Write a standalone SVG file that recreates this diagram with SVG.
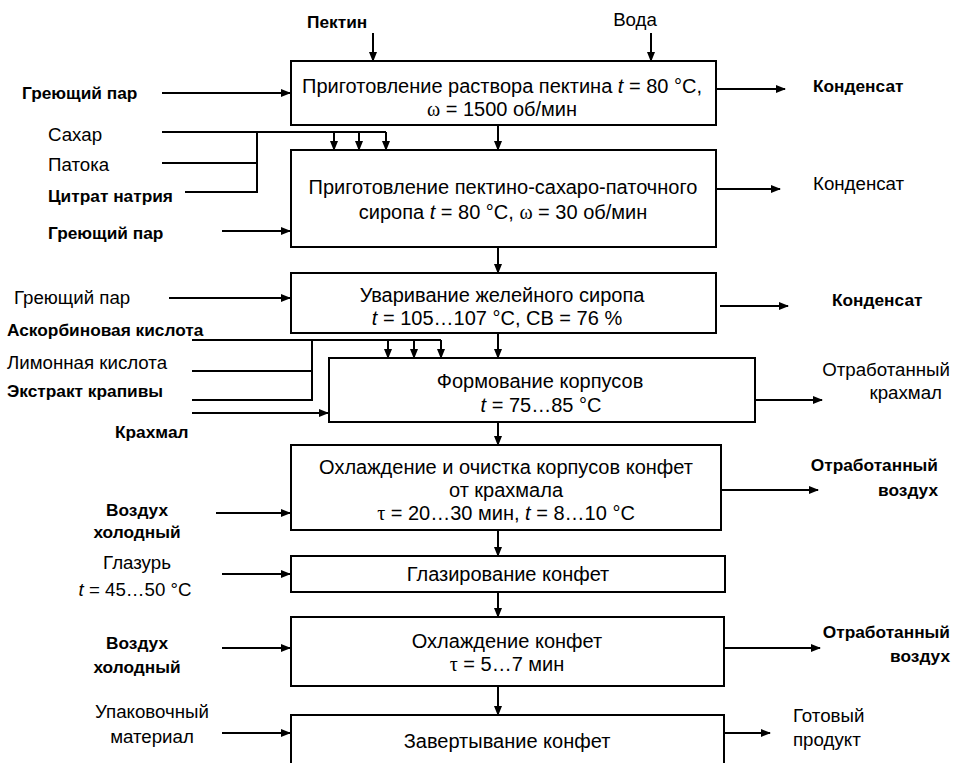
<svg xmlns="http://www.w3.org/2000/svg" width="954" height="763" viewBox="0 0 954 763">
<defs>
<marker id="ah" markerWidth="10" markerHeight="8" refX="9" refY="4" orient="auto" markerUnits="userSpaceOnUse">
<path d="M0,0 L10,4 L0,8 Z" fill="#000"/>
</marker>
<style>
text{font-family:"Liberation Sans",Arial,sans-serif;font-size:18.7px;fill:#000}
.t{font-size:20px;text-anchor:middle}
.b{font-weight:bold;font-size:17.3px}
.m{text-anchor:middle}
.e{text-anchor:end}
.g{font-family:"Liberation Serif","Times New Roman",serif}
.box{fill:#fff;stroke:#000;stroke-width:2}
.c line{stroke:#000;stroke-width:2;fill:none}
.a{marker-end:url(#ah)}
</style>
</defs>
<rect width="954" height="763" fill="#fff"/>

<g id="n1"><rect class="box" x="291" y="61" width="425" height="64"/>
<text x="502" y="93" class="t">Приготовление раствора пектина <tspan font-style="italic">t</tspan> = 80 °C,</text>
<text x="502" y="116" class="t"><tspan class="g">ω</tspan> = 1500 об/мин</text></g>

<g id="n2"><rect class="box" x="291" y="150" width="425" height="97"/>
<text x="503" y="194" class="t">Приготовление пектино-сахаро-паточного</text>
<text x="503" y="219" class="t">сиропа  <tspan font-style="italic">t</tspan> = 80 °C, <tspan class="g">ω</tspan> = 30 об/мин</text></g>

<g id="n3"><rect class="box" x="291" y="273" width="425" height="60"/>
<text x="502" y="302" class="t">Уваривание желейного сиропа</text>
<text x="497" y="325" class="t"><tspan font-style="italic">t</tspan> = 105…107 °C, СВ = 76 %</text></g>

<g id="n4"><rect class="box" x="329" y="358" width="426" height="64"/>
<text x="540" y="388" class="t">Формование корпусов</text>
<text x="541" y="412" class="t"><tspan font-style="italic">t</tspan> = 75…85 °C</text></g>

<g id="n5"><rect class="box" x="291" y="445" width="430" height="85"/>
<text x="506" y="474" class="t">Охлаждение и очистка корпусов конфет</text>
<text x="506" y="497" class="t">от крахмала</text>
<text x="506" y="520" class="t"><tspan class="g">τ</tspan> = 20…30 мин, <tspan font-style="italic">t</tspan> = 8…10 °C</text></g>

<g id="n6"><rect class="box" x="291" y="556" width="434" height="36"/>
<text x="508" y="581" class="t">Глазирование конфет</text></g>

<g id="n7"><rect class="box" x="291" y="617" width="433" height="69"/>
<text x="507" y="648" class="t">Охлаждение конфет</text>
<text x="507" y="671" class="t"><tspan class="g">τ</tspan> = 5…7 мин</text></g>

<g id="n8"><rect class="box" x="291" y="715" width="433" height="60"/>
<text x="507" y="748" class="t">Завертывание конфет</text></g>

<g id="labels">
<text x="307" y="28" class="b">Пектин</text>
<text x="635" y="26" class="m">Вода</text>
<text x="22" y="99" class="b">Греющий пар</text>
<text x="813" y="92" class="b">Конденсат</text>
<text x="48" y="141">Сахар</text>
<text x="48" y="171">Патока</text>
<text x="48" y="202" class="b">Цитрат натрия</text>
<text x="48" y="239" class="b">Греющий пар</text>
<text x="813" y="190">Конденсат</text>
<text x="14" y="304">Греющий пар</text>
<text x="832" y="306" class="b">Конденсат</text>
<text x="7" y="336" class="b">Аскорбиновая кислота</text>
<text x="7" y="369">Лимонная кислота</text>
<text x="7" y="397" class="b">Экстракт крапивы</text>
<text x="115" y="438" class="b">Крахмал</text>
<text x="950" y="376" class="e">Отработанный</text>
<text x="942" y="399" class="e">крахмал</text>
<text x="137" y="516" class="m b">Воздух</text>
<text x="137" y="538" class="m b">холодный</text>
<text x="938" y="471" class="e b">Отработанный</text>
<text x="938" y="496" class="e b">воздух</text>
<text x="137" y="569" class="m">Глазурь</text>
<text x="135" y="596" class="m"><tspan font-style="italic">t</tspan> = 45…50 °C</text>
<text x="137" y="649" class="m b">Воздух</text>
<text x="137" y="673" class="m b">холодный</text>
<text x="950" y="638" class="e b">Отработанный</text>
<text x="950" y="662" class="e b">воздух</text>
<text x="152" y="718" class="m">Упаковочный</text>
<text x="152" y="743" class="m">материал</text>
<text x="793" y="722">Готовый</text>
<text x="793" y="746">продукт</text>
</g>

<g id="connectors" class="c">
<line class="a" x1="373" y1="33" x2="373" y2="61"/>
<line class="a" x1="651" y1="33" x2="651" y2="61"/>
<line class="a" x1="162" y1="93" x2="290" y2="93"/>
<line class="a" x1="716" y1="89" x2="785" y2="89"/>
<line class="a" x1="498" y1="125" x2="498" y2="150"/>
<line x1="162" y1="132" x2="386" y2="132"/>
<line class="a" x1="334" y1="132" x2="334" y2="150"/>
<line class="a" x1="359" y1="132" x2="359" y2="150"/>
<line class="a" x1="386" y1="132" x2="386" y2="150"/>
<line x1="257" y1="132" x2="257" y2="193"/>
<line x1="162" y1="163" x2="257" y2="163"/>
<line x1="185" y1="192" x2="258" y2="192"/>
<line class="a" x1="222" y1="231" x2="290" y2="231"/>
<line class="a" x1="716" y1="189" x2="780" y2="189"/>
<line class="a" x1="498" y1="247" x2="498" y2="273"/>
<line class="a" x1="169" y1="298" x2="290" y2="298"/>
<line class="a" x1="720" y1="306" x2="788" y2="306"/>
<line class="a" x1="498" y1="333" x2="498" y2="358"/>
<line x1="192" y1="340" x2="441" y2="340"/>
<line class="a" x1="388" y1="340" x2="388" y2="358"/>
<line class="a" x1="414" y1="340" x2="414" y2="358"/>
<line class="a" x1="441" y1="340" x2="441" y2="358"/>
<line x1="312" y1="340" x2="312" y2="401"/>
<line x1="192" y1="371" x2="312" y2="371"/>
<line x1="192" y1="400" x2="313" y2="400"/>
<line class="a" x1="192" y1="413" x2="328" y2="413"/>
<line class="a" x1="755" y1="400" x2="822" y2="400"/>
<line class="a" x1="498" y1="422" x2="498" y2="445"/>
<line class="a" x1="216" y1="513" x2="290" y2="513"/>
<line class="a" x1="721" y1="490" x2="818" y2="490"/>
<line class="a" x1="498" y1="530" x2="498" y2="556"/>
<line class="a" x1="222" y1="574" x2="290" y2="574"/>
<line class="a" x1="498" y1="592" x2="498" y2="617"/>
<line class="a" x1="222" y1="648" x2="290" y2="648"/>
<line class="a" x1="724" y1="648" x2="820" y2="648"/>
<line class="a" x1="498" y1="686" x2="498" y2="715"/>
<line class="a" x1="222" y1="733" x2="290" y2="733"/>
<line class="a" x1="724" y1="733" x2="770" y2="733"/>
</g>
</svg>
